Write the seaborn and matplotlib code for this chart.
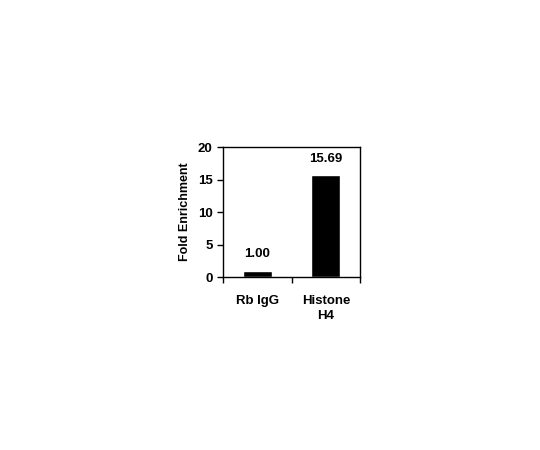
import matplotlib
matplotlib.use("Agg")
import matplotlib.pyplot as plt
import seaborn as sns
import pandas as pd

# data
samples = ["Rb IgG", "Histone\nH4"]
fold_enrichment = [1.00, 15.69]
value_labels = ["1.00", "15.69"]
y_ticks = [0, 5, 10, 15, 20]

df = pd.DataFrame({"sample": samples, "fold": fold_enrichment})

sns.set_style("ticks")
plt.rcParams["font.family"] = ["Liberation Sans", "DejaVu Sans"]
plt.rcParams["font.weight"] = "bold"
plt.rcParams["text.color"] = "black"
plt.rcParams["xtick.color"] = "black"
plt.rcParams["ytick.color"] = "black"
plt.rcParams["axes.labelcolor"] = "black"

fig = plt.figure(figsize=(5.4, 4.5), dpi=100)
ax = fig.add_axes([0.413, 0.384, 0.254, 0.289])

sns.barplot(data=df, x="sample", y="fold", color="black", width=0.42,
            saturation=1, ax=ax)

for i, (v, lab) in enumerate(zip(fold_enrichment, value_labels)):
    ax.text(i, v + 1.6, lab, ha="center", va="bottom", fontsize=9.5,
            fontweight="bold", color="black")

ax.set_ylim(0, 20)
ax.set_yticks(y_ticks)
ax.set_xlim(-0.5, 1.5)
# separator ticks between categories, labels centred under bars
ax.set_xticks([-0.5, 0.5, 1.5])
ax.set_xticklabels([])
ax.set_xticks([0, 1], minor=True)
ax.set_xticklabels(samples, minor=True, fontsize=9.5, fontweight="bold",
                   linespacing=1.35)
ax.tick_params(axis="x", which="major", direction="out", length=4, width=1)
ax.tick_params(axis="x", which="minor", length=0, pad=13)
ax.tick_params(axis="y", direction="out", length=4, width=1, labelsize=9.5)
for t in ax.get_yticklabels():
    t.set_fontweight("bold")

for s in ax.spines.values():
    s.set_visible(True)
    s.set_linewidth(1)
    s.set_color("black")

ax.set_xlabel("")
ax.set_ylabel("Fold Enrichment", fontsize=9, fontweight="bold", labelpad=5)

fig.savefig("out.png", dpi=100)
